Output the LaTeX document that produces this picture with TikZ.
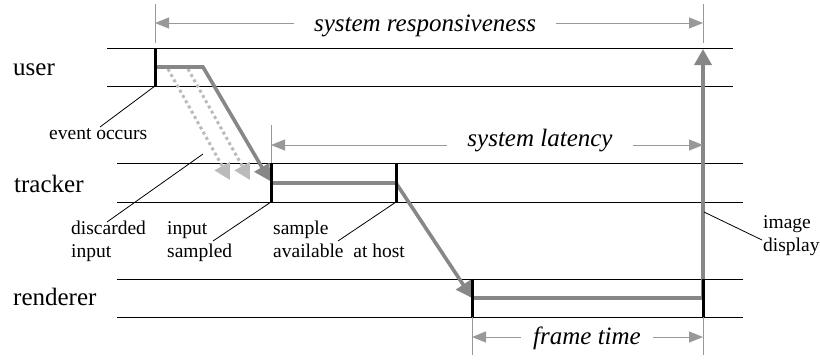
\documentclass[tikz,border=0pt]{standalone}
\usepackage{fontspec}
\setmainfont{Liberation Serif}
\usetikzlibrary{arrows.meta}

\definecolor{flowgray}{HTML}{878787}
\definecolor{dropgray}{HTML}{BBBBBB}
\definecolor{dimgray}{HTML}{999999}

\tikzset{
    lane/.style={line width=1pt},
    bar/.style={line width=3pt},
    flow/.style={flowgray, line width=3.6pt, -{Triangle[length=16pt,width=17pt]}},
    dropped/.style={dropgray, line width=3pt, dash pattern=on 3pt off 3pt, -{Triangle[length=16pt,width=17pt]}},
    dimline/.style={dimgray, line width=1pt},
    dimarrow/.style={dimgray, line width=1pt, -{Triangle[length=14pt,width=11pt]}},
    leader/.style={line width=0.8pt},
    lanelabel/.style={font=\fontsize{25}{30}\selectfont, anchor=base west, inner sep=0pt},
    note/.style={font=\fontsize{19.5}{22.5}\selectfont, align=left, anchor=base west, inner sep=0pt},
    span/.style={font=\fontsize{25}{30}\selectfont\itshape, anchor=base, inner ysep=0pt, inner xsep=20pt},
}

\begin{document}
\begin{tikzpicture}[x=1pt, y=-1pt]
    \useasboundingbox (0,0) rectangle (820,360);

    \foreach \y in {48,86} \draw[lane] (107,\y) -- (733,\y);
    \foreach \y in {163,202,279,317} \draw[lane] (117,\y) -- (743,\y);

    \node[lanelabel] (user) at (13,75) {user};
    \node[lanelabel] (tracker) at (14,192) {tracker};
    \node[lanelabel] (renderer) at (13,305) {renderer};

    \coordinate (event) at (155,67);
    \coordinate (hold) at (203,67);
    \coordinate (arrive) at (270,181);
    \coordinate (sampled) at (271,183);
    \coordinate (avail) at (396,183);
    \coordinate (render) at (472,298);
    \coordinate (display) at (703,298);
    \coordinate (seen) at (703,49);

    \coordinate (drop1) at (168,69);
    \coordinate (drop1 end) at (230,180);
    \coordinate (drop2) at (188,69);
    \coordinate (drop2 end) at (250,180);

    \draw[dropped] (drop1) -- (drop1 end);
    \draw[dropped] (drop2) -- (drop2 end);
    \draw[flow] (event) -- (hold) -- (arrive);
    \draw[flow] (sampled) -- (avail) -- (render);
    \draw[flow] (render) -- (display) -- (seen);

    \draw[bar] (155,48) -- (155,86);
    \draw[bar] (271,163) -- (271,202);
    \draw[bar] (396,163) -- (396,202);
    \draw[bar] (472,279) -- (472,317);
    \draw[bar] (703,279) -- (703,317);

    \draw[dimline] (155,4) -- (155,43);
    \draw[dimline] (703,4) -- (703,43);
    \draw[dimline] (271,125) -- (271,163);
    \draw[dimline] (472,317) -- (472,355);
    \draw[dimline] (703,317) -- (703,355);

    \coordinate (resp left) at (155,23);
    \coordinate (resp right) at (703,23);
    \node[span] (resp) at (425,31) {system responsiveness};
    \draw[dimarrow] (resp.west |- resp left) -- (resp left);
    \draw[dimarrow] (resp.east |- resp right) -- (resp right);

    \coordinate (lat left) at (271,145);
    \coordinate (lat right) at (703,145);
    \node[span] (lat) at (540,146) {system latency};
    \draw[dimarrow] (lat.west |- lat left) -- (lat left);
    \draw[dimarrow] (lat.east |- lat right) -- (lat right);

    \coordinate (frame left) at (472,337);
    \coordinate (frame right) at (703,337);
    \node[span, inner xsep=12pt] (frame) at (587,344) {frame time};
    \draw[dimarrow] (frame.west |- frame left) -- (frame left);
    \draw[dimarrow] (frame.east |- frame right) -- (frame right);

    \node[note] (occurs) at (49,139) {event occurs};
    \node[note] (discarded) at (71,257) {discarded\\input};
    \node[note] (insampled) at (167,257) {input\\sampled};
    \node[note] (athost) at (273,257) {sample\\available\ \ at host};
    \node[note] (imgdisplay) at (763,251) {image\\display};

    \coordinate (event foot) at (155,86);
    \coordinate (occurs tip) at (100,127);
    \coordinate (drop mid) at (203,154);
    \coordinate (discarded tip) at (107,222);
    \coordinate (sampled foot) at (271,202);
    \coordinate (insampled tip) at (213,241);
    \coordinate (avail foot) at (396,202);
    \coordinate (athost tip) at (338,241);
    \coordinate (display side) at (704,212);
    \coordinate (imgdisplay tip) at (762,240);

    \draw[leader] (event foot) -- (occurs tip);
    \draw[leader] (drop mid) -- (discarded tip);
    \draw[leader] (sampled foot) -- (insampled tip);
    \draw[leader] (avail foot) -- (athost tip);
    \draw[leader] (display side) -- (imgdisplay tip);
\end{tikzpicture}
\end{document}
